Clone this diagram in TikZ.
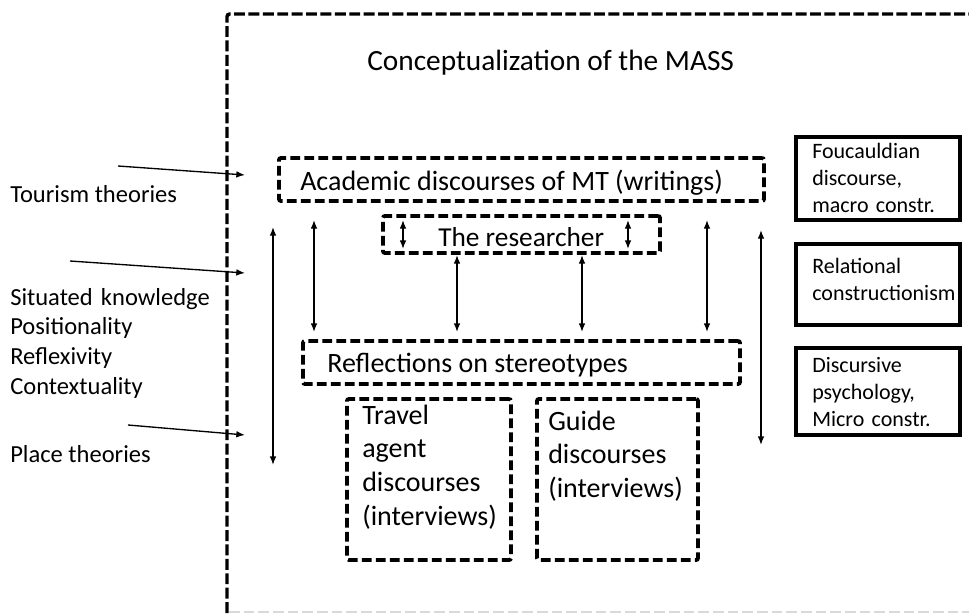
\documentclass[tikz,border=0pt]{standalone}
\usepackage{fontspec}
\setmainfont{Carlito}
\usetikzlibrary{arrows.meta,fit}
\newcommand\fsz[2]{\fontsize{#1}{#2}\selectfont}
\begin{document}
\begin{tikzpicture}[x=0.75pt,y=-0.75pt,
  dbox/.style={draw,line width=2.9pt,dash pattern=on 7.3pt off 3.2pt,rounded corners=1.5pt,inner sep=0pt},
  sbox/.style={draw,line width=2.9pt,inner sep=0pt},
  outerline/.style={draw,line width=2.6pt,dash pattern=on 8.2pt off 2.6pt,rounded corners=2pt},
  tip/.tip={Latex[length=6.5pt,width=5pt]},
  arr/.style={line width=1pt,-tip},
  dbl/.style={line width=1pt,tip-tip},
  lbl/.style={inner sep=0pt,anchor=base west,align=left},
  big/.style={font=\fsz{21}{25.3}},
  side/.style={font=\fsz{18.4}{22.3}},
  small/.style={font=\fsz{16.5}{20.5}},
]
\useasboundingbox (0,0) rectangle (969,613);
% outer frame
\draw[outerline] (227,613) -- (227,14) -- (980,14);
\draw[gray!30,line width=1.1pt,dash pattern=on 8pt off 3pt] (229,611.8) -- (969,611.8);
% title
\node[lbl,font=\fsz{22}{26}] (title) at (367,71) {Conceptualization of the MASS};
% central boxes
\node[dbox,fit={(279,158)(764,201)}] (acad) {};
\node[lbl,big] (acadt) at (300,190) {Academic discourses of MT (writings)};
\node[dbox,fit={(383,216)(660,253)}] (res) {};
\node[lbl,font=\fsz{20.5}{25}] (rest) at (438,246) {The researcher};
\node[dbox,fit={(303,341)(740,384)}] (refl) {};
\node[lbl,big] (reflt) at (327,372) {Reflections on stereotypes};
\node[dbox,fit={(347,399)(511,560)}] (trav) {};
\node[lbl,big,text width=140pt] (travt) at (362,424) {Travel\\agent\\discourses\\(interviews)};
\node[dbox,fit={(537,399)(698,560)}] (guide) {};
\node[lbl,big,text width=140pt] (guidet) at (548,430) {Guide\\discourses\\(interviews)};
% right boxes
\node[sbox,fit={(796,137)(960,220)}] (fouc) {};
\node[lbl,small,text width=130pt] (fouct) at (812,158) {Foucauldian\\discourse,\\macro constr.};
\node[sbox,fit={(796,244)(960,325)}] (rel) {};
\node[lbl,small,text width=130pt] (relt) at (812,273) {Relational\\constructionism};
\node[sbox,fit={(796,348)(960,435)}] (disc) {};
\node[lbl,small,text width=130pt] (disct) at (812,372) {Discursive\\psychology,\\Micro constr.};
% left labels
\node[lbl,side] (tour) at (10,202) {Tourism theories};
\node[lbl,side,text width=180pt] (sit) at (10,305) {Situated knowledge\\Positionality\\Reflexivity\\Contextuality};
\node[lbl,side] (place) at (10,462) {Place theories};
% coordinates for connectors
\coordinate (i1s) at (118,166); \coordinate (i1e) at (245,175);
\coordinate (i2s) at (70,261);  \coordinate (i2e) at (245,273);
\coordinate (i3s) at (128,425); \coordinate (i3e) at (245,435);
\coordinate (la) at (273,227);  \coordinate (lb) at (273,465);
\coordinate (ra) at (761,230);  \coordinate (rb) at (761,445);
\coordinate (c1a) at (314,220); \coordinate (c1b) at (314,332);
\coordinate (c2a) at (457,255); \coordinate (c2b) at (457,332);
\coordinate (c3a) at (582,255); \coordinate (c3b) at (582,332);
\coordinate (c4a) at (707,220); \coordinate (c4b) at (707,332);
\coordinate (s1a) at (403,220); \coordinate (s1b) at (403,249);
\coordinate (s2a) at (628,220); \coordinate (s2b) at (628,249);
% connectors
\draw[arr] (i1s) -- (i1e);
\draw[arr] (i2s) -- (i2e);
\draw[arr] (i3s) -- (i3e);
\draw[dbl] (la) -- (lb);
\draw[dbl] (ra) -- (rb);
\draw[dbl] (c1a) -- (c1b);
\draw[dbl] (c2a) -- (c2b);
\draw[dbl] (c3a) -- (c3b);
\draw[dbl] (c4a) -- (c4b);
\draw[dbl] (s1a) -- (s1b);
\draw[dbl] (s2a) -- (s2b);
\end{tikzpicture}
\end{document}
